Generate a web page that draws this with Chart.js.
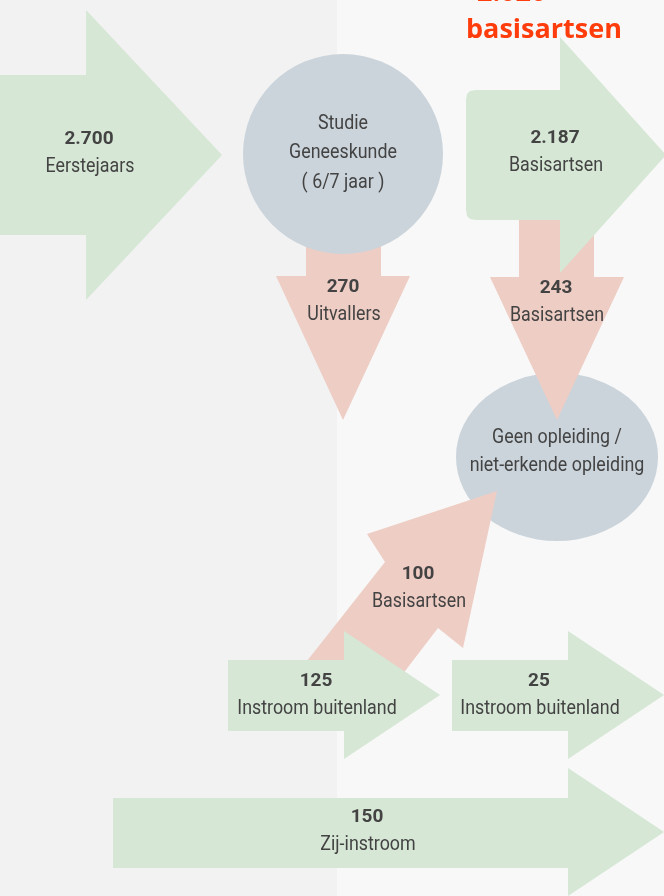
<!DOCTYPE html>
<html lang="nl">
<head>
<meta charset="utf-8">
<script src="https://cdn.jsdelivr.net/npm/chart.js@4.4.1/dist/chart.umd.min.js"></script>
<style>
  html, body { margin: 0; padding: 0; background: #f8f8f8; }
  #wrap { width: 664px; height: 896px; position: relative; }
</style>
</head>
<body>
<div id="wrap"><canvas id="chartStroom"></canvas></div>
<script>
// stromen: aantal + omschrijving
const flowValues = [2700, 270, 2187, 243, 100, 125, 25, 150];
const flowNames = ['Eerstejaars', 'Uitvallers', 'Basisartsen', 'Basisartsen', 'Basisartsen',
  'Instroom buitenland', 'Instroom buitenland', 'Zij-instroom'];
const flowKinds = ['groen', 'rood', 'groen', 'rood', 'rood', 'groen', 'groen', 'groen'];
const nodeNames = [['Studie', 'Geneeskunde', '( 6/7 jaar )'], ['Geen opleiding /', 'niet-erkende opleiding']];
const totalArtsen = 2020;
const totalLabel = 'basisartsen';

const kleuren = { groen: '#d6e7d5', rood: '#eecdc4', grijs: '#cbd4db', tekst: '#434343', titel: '#ff3c0c' };

// vormen in diagram-eenheden (x 0..664, y 0..896)
const arrowShapes = [
  [[0, 75], [86, 75], [86, 10], [222, 155], [86, 300], [86, 235], [0, 235]],
  [[306, 200], [381, 200], [381, 276], [410, 276], [343, 420], [276, 276], [306, 276]],
  [[466, 100], [467, 94], [470, 91], [476, 90], [560, 90], [560, 37], [666, 155], [560, 273], [560, 220], [476, 220], [470, 219], [467, 216], [466, 210]],
  [[519, 200], [594, 200], [594, 277], [624, 277], [557, 420], [490, 277], [519, 277]],
  [[292, 680], [385, 562], [367, 534], [497, 491], [463, 648], [438, 628], [392, 688]],
  [[228, 660], [344, 660], [344, 631], [440, 695], [344, 759], [344, 731], [228, 731]],
  [[452, 660], [568, 660], [568, 631], [664, 695], [568, 759], [568, 731], [452, 731]],
  [[113, 798], [568, 798], [568, 768], [664, 832], [568, 896], [568, 868], [113, 868]]
];
const labelPos = [[89, 139], [343, 287], [555, 138], [556, 288], [418, 574], [316, 681], [539, 681], [367, 817]];
const nodeShapes = [{ x: 343, y: 154, rx: 100, ry: 100 }, { x: 557, y: 457, rx: 101, ry: 84 }];
const nodeLinePos = [[124, 153, 183], [438, 466]];
// tekenvolgorde (n = knoop, a = pijl)
const drawOrder = ['a0', 'a1', 'n0', 'n1', 'a3', 'a2', 'a4', 'a5', 'a6', 'a7'];

function formatNL(v) {
  return String(v).replace(/\B(?=(\d{3})+(?!\d))/g, '.');
}

function tekst(ctx, str, x, y, font, squeeze) {
  ctx.save();
  ctx.translate(x, y);
  ctx.scale(squeeze, 1);
  ctx.font = font;
  ctx.fillText(str, 0, 0);
  ctx.restore();
}

const LABEL_FONT = '21px Roboto';
const NUM_FONT = 'bold 19px Roboto';
const SQ = 0.85;

const stroomPlugin = {
  id: 'stroom',
  beforeDraw(chart) {
    const { ctx, scales: { x, y } } = chart;
    ctx.save();
    ctx.fillStyle = '#f8f8f8';
    ctx.fillRect(0, 0, chart.width, chart.height);
    ctx.fillStyle = '#f2f2f2';
    ctx.fillRect(0, 0, x.getPixelForValue(337), chart.height);
    ctx.restore();
  },
  beforeDatasetsDraw(chart) {
    const { ctx, scales: { x, y } } = chart;
    ctx.save();
    drawOrder.forEach(function (item) {
      const i = Number(item.slice(1));
      if (item[0] === 'a') {
        ctx.fillStyle = kleuren[flowKinds[i]];
        ctx.beginPath();
        arrowShapes[i].forEach(function (p, k) {
          const px = x.getPixelForValue(p[0]);
          const py = y.getPixelForValue(p[1]);
          if (k === 0) ctx.moveTo(px, py); else ctx.lineTo(px, py);
        });
        ctx.closePath();
        ctx.fill();
      } else {
        const n = nodeShapes[i];
        ctx.fillStyle = kleuren.grijs;
        ctx.beginPath();
        ctx.ellipse(x.getPixelForValue(n.x), y.getPixelForValue(n.y),
          Math.abs(x.getPixelForValue(n.rx) - x.getPixelForValue(0)),
          Math.abs(y.getPixelForValue(n.ry) - y.getPixelForValue(0)), 0, 0, Math.PI * 2);
        ctx.fill();
      }
    });
    ctx.restore();
  },
  afterDatasetsDraw(chart) {
    const { ctx, scales: { x, y } } = chart;
    ctx.save();
    ctx.fillStyle = kleuren.tekst;
    ctx.textAlign = 'center';
    ctx.textBaseline = 'middle';
    const meta = chart.getDatasetMeta(0);
    meta.data.forEach(function (pt, i) {
      tekst(ctx, formatNL(flowValues[i]), pt.x, pt.y, NUM_FONT, 1);
      tekst(ctx, flowNames[i], pt.x + 1, pt.y + 28, LABEL_FONT, SQ);
    });
    nodeNames.forEach(function (lines, i) {
      lines.forEach(function (line, k) {
        tekst(ctx, line, x.getPixelForValue(nodeShapes[i].x), y.getPixelForValue(nodeLinePos[i][k]), LABEL_FONT, SQ);
      });
    });
    // titel rechtsboven
    ctx.fillStyle = kleuren.titel;
    ctx.textAlign = 'left';
    ctx.textBaseline = 'alphabetic';
    tekst(ctx, formatNL(totalArtsen), x.getPixelForValue(477), y.getPixelForValue(1), 'bold 27px "Open Sans"', 1);
    tekst(ctx, totalLabel, x.getPixelForValue(466), y.getPixelForValue(38), 'bold 27px "Open Sans"', 1);
    ctx.restore();
  }
};

new Chart(document.getElementById('chartStroom'), {
  type: 'scatter',
  data: {
    datasets: [{
      label: 'Stromen',
      data: labelPos.map(function (p) { return { x: p[0], y: p[1] }; }),
      pointRadius: 0,
      pointHoverRadius: 0
    }]
  },
  options: {
    responsive: true,
    maintainAspectRatio: false,
    animation: false,
    layout: { padding: 0 },
    plugins: { legend: { display: false }, tooltip: { enabled: false } },
    scales: {
      x: { type: 'linear', min: 0, max: 664, display: false },
      y: { type: 'linear', min: 0, max: 896, reverse: true, display: false }
    }
  },
  plugins: [stroomPlugin]
});
</script>
</body>
</html>
